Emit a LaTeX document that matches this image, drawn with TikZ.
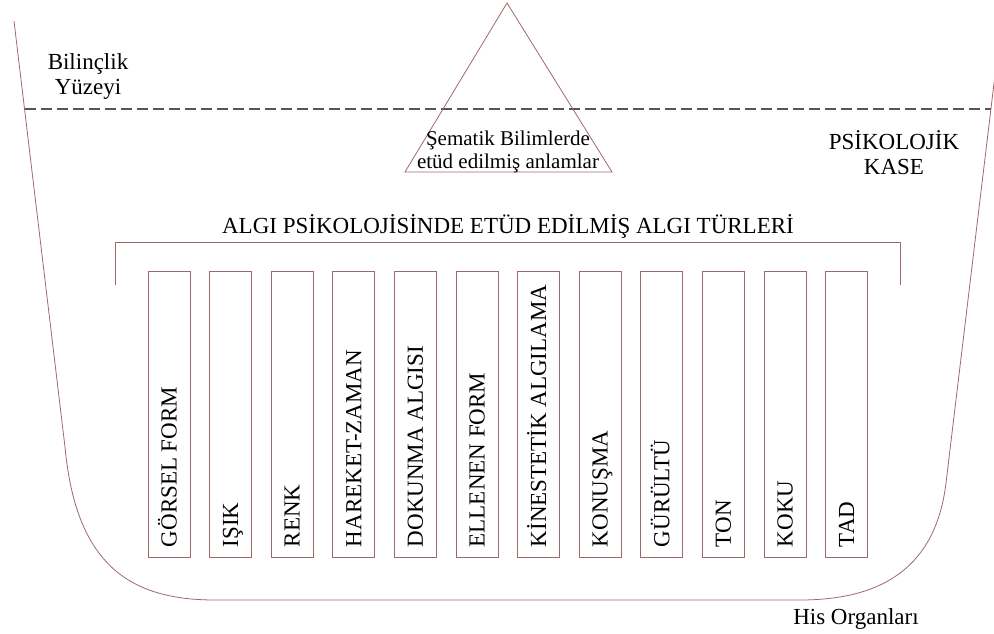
\documentclass[tikz,border=0pt]{standalone}
\usepackage{fontspec}
\setmainfont{Liberation Serif}
\definecolor{bowlred}{RGB}{160,105,105}
\definecolor{surfacegray}{RGB}{85,85,85}
\begin{document}
\begin{tikzpicture}[x=1pt, y=-1pt,
  bowlline/.style={bowlred, line width=0.8pt},
  catbox/.style={draw=bowlred, line width=0.8pt, minimum width=42pt, minimum height=286pt, inner sep=0pt},
  cattext/.style={rotate=90, anchor=base west, inner sep=0pt, font=\fontsize{23}{25}\selectfont},
  lbl/.style={align=center, inner sep=0pt, font=\fontsize{23}{25}\selectfont}]

\clip (0,0) rectangle (994,634);

\draw[bowlline] (14,21) -- (65,447) .. controls (76,565) and (130,600) .. (215,600) -- (800,600) .. controls (885,600) and (936,565) .. (946,483) -- (1004,0);

\draw[surfacegray, line width=1.4pt, dash pattern=on 11pt off 5pt] (25,109) -- (991,109);

\draw[bowlline] (507,3) -- (405,172) -- (612,172) -- cycle;
\node[lbl, font=\fontsize{21}{23}\selectfont] (sema) at (508,152) {Şematik Bilimlerde\\etüd edilmiş anlamlar};

\node[lbl] (yuzey) at (88,77) {Bilinçlik\\Yüzeyi};
\node[lbl] (kase) at (894,153) {PSİKOLOJİK\\KASE};
\node[lbl] (organ) at (856,619) {His Organları};

\node[lbl] (baslik) at (508,226) {ALGI PSİKOLOJİSİNDE ETÜD EDİLMİŞ ALGI TÜRLERİ};
\draw[bowlline] (115,285) -- (115,242) -- (900,242) -- (900,285);

\foreach \name [count=\i from 0] in {GÖRSEL FORM, IŞIK, RENK, HAREKET-ZAMAN, DOKUNMA ALGISI, ELLENEN FORM, KİNESTETİK ALGILAMA, KONUŞMA, GÜRÜLTÜ, TON, KOKU, TAD}{
  \node[catbox] (b\i) at (169+61.6*\i,414) {};
  \node[cattext] (t\i) at ([xshift=7.5pt, yshift=10pt]b\i.south) {\name};
}

\end{tikzpicture}
\end{document}
